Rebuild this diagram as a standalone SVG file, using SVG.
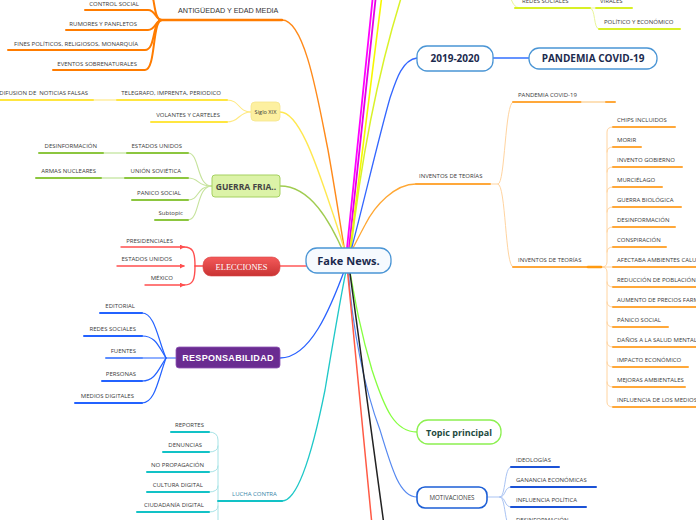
<svg xmlns="http://www.w3.org/2000/svg" width="696" height="520" viewBox="0 0 696 520">
<defs>
<style>
.t{font-family:"Open Sans","Liberation Sans",sans-serif;font-size:6px;fill:#3a3a3a}
.e{text-anchor:end}
.m{text-anchor:middle}
.b{font-weight:bold}
.ln{fill:none;stroke-linecap:round}
.or{stroke:#ff7c00;stroke-width:2}
.io{stroke:#ffa83a;stroke-width:2}
.iol{stroke:#ffd4a0;stroke-width:1}
.ye{stroke:#ffe640;stroke-width:2}
.gr{stroke:#8cc63f;stroke-width:2}
.grl{stroke:#c6e39c;stroke-width:1.1}
.rd{stroke:#ff4f4f;stroke-width:1.4}
.bl{stroke:#2362ff;stroke-width:2}
.te{stroke:#12c2c6;stroke-width:2}
.tel{stroke:#a6e3e6;stroke-width:1}
.mb{stroke:#1b52d6;stroke-width:2}
.mbl{stroke:#a9c3f3;stroke-width:1}
.yg{stroke:#d8f026;stroke-width:2}
.ygl{stroke:#e9f59a;stroke-width:1}
</style>
<linearGradient id="redg" x1="0" y1="0" x2="0" y2="1">
<stop offset="0" stop-color="#f45a5a"/>
<stop offset="1" stop-color="#c93333"/>
</linearGradient>
<marker id="arr" viewBox="0 0 6 6" refX="5" refY="3" markerWidth="5" markerHeight="5" orient="auto" markerUnits="userSpaceOnUse">
<path d="M0,0 L6,3 L0,6 z" fill="#ff4f4f"/>
</marker>
</defs>

<g id="connectors">
<!-- main branches from the central node -->
<path class="ln" d="M282,20 C305,20 318,100 328,150 C336,195 341,230 346,258" stroke="#ff8a1a" stroke-width="1.4"/>
<path class="ln" d="M280,112 C300,112 318,170 330,205 C338,228 343,245 347,258" stroke="#ffe850" stroke-width="1.4"/>
<path class="ln" d="M280,186 C310,186 330,220 346,258" stroke="#a0cc50" stroke-width="1.3"/>
<path class="ln" d="M280,266 H308" stroke="#ff5a5a" stroke-width="1.4"/>
<path class="ln" d="M280,358 C310,358 330,310 346,266" stroke="#2a62ff" stroke-width="1.3"/>
<path class="ln" d="M282,501 C300,501 315,440 325,390 C335,330 342,290 347,266" stroke="#1fc8c8" stroke-width="1.3"/>
<path class="ln" d="M346,258 L373,-5" stroke="#ff00ff" stroke-width="1.8"/>
<path class="ln" d="M348,258 L376,-5" stroke="#e600e6" stroke-width="1.8"/>
<path class="ln" d="M349,258 L382,-5" stroke="#f7f700" stroke-width="1.6"/>
<path class="ln" d="M350,258 Q366,110 402,-5" stroke="#d9f228" stroke-width="1.5"/>
<path class="ln" d="M417,58 C402,60 396,80 390,98 C378,140 362,210 349,258" stroke="#3366ff" stroke-width="1.3"/>
<path class="ln" d="M416,184 C395,184 375,205 365,225 C358,238 352,250 348,258" stroke="#ffa733" stroke-width="1.3"/>
<path class="ln" d="M349,266 C355,300 360,330 372,370 C385,410 395,432 417,432" stroke="#86ff40" stroke-width="1.3"/>
<path class="ln" d="M348,266 C352,330 365,390 380,430 C392,470 400,497 417,497" stroke="#5588f0" stroke-width="1.2"/>
<path class="ln" d="M347,266 L372,525" stroke="#ff5a45" stroke-width="1.5"/>
<path class="ln" d="M349,266 L384,525" stroke="#222222" stroke-width="1.5"/>

<!-- Antigüedad children -->
<path class="ln or" d="M162,20 C152,20 156,-10 148,-10"/>
<path class="ln or" d="M162,20 C155,20 156,10 148,10 H85"/>
<path class="ln or" d="M162,20 C155,20 156,30 148,30 H66"/>
<path class="ln or" d="M162,20 C152,20 156,50 145,50 H8"/>
<path class="ln or" d="M162,20 C152,20 156,70 145,70 H53"/>

<!-- Siglo XIX -->
<path class="ln" d="M251,112 C238,112 240,100 227,100" stroke="#ffe980" stroke-width="1.1"/>
<path class="ln" d="M251,112 C238,112 240,122 227,122" stroke="#ffe980" stroke-width="1.1"/>
<path class="ln" d="M93,100 H117" stroke="#fff2b8" stroke-width="2"/>

<!-- Guerra fria -->
<path class="ln grl" d="M212,186 C196,186 200,153 188,153"/>
<path class="ln grl" d="M212,186 C196,186 200,178 188,178"/>
<path class="ln grl" d="M212,186 C196,186 200,200 188,200"/>
<path class="ln grl" d="M212,186 C196,186 200,220 188,220"/>
<path class="ln" d="M103,153 H127" stroke="#d8eec0" stroke-width="2"/>
<path class="ln" d="M101,178 H125" stroke="#d8eec0" stroke-width="2"/>

<!-- Elecciones -->
<path class="ln rd" d="M203,266 H195"/>
<path class="ln rd" d="M195,266 C195,252 193,247 184,247"/>
<path class="ln rd" d="M195,266 C195,280 193,285 184,285"/>

<!-- Responsabilidad -->
<path class="ln" d="M176,358 H166 C158,340 155,313 142,313" stroke="#2362ff" stroke-width="1.2"/>
<path class="ln" d="M166,358 C158,345 155,336 142,336" stroke="#2362ff" stroke-width="1.2"/>
<path class="ln" d="M166,358 H142" stroke="#2362ff" stroke-width="1.2"/>
<path class="ln" d="M166,358 C158,370 155,381 142,381" stroke="#2362ff" stroke-width="1.2"/>
<path class="ln" d="M166,358 C158,380 155,403 142,403" stroke="#2362ff" stroke-width="1.2"/>

<!-- Lucha contra -->
<path class="ln tel" d="M209,432 Q218,432 218,440 V525"/>
<path class="ln tel" d="M218,446 Q218,452 209,452"/>
<path class="ln tel" d="M218,466 Q218,472 209,472"/>
<path class="ln tel" d="M218,486 Q218,492 209,492"/>
<path class="ln tel" d="M218,506 Q218,512 209,512"/>

<!-- Redes sociales (top right) -->
<path class="ln ygl" d="M510,-6 Q512,8 520,8"/>
<path class="ln ygl" d="M590,8 H595"/>
<path class="ln ygl" d="M590,8 C596,8 593,29 599,29"/>

<!-- 2019-2020 -->
<path class="ln" d="M493,58 H529" stroke="#3370ff" stroke-width="1.4"/>

<!-- Inventos de teorias -->
<path class="ln iol" d="M490,184 H498 C505,184 505,102 513,102"/>
<path class="ln iol" d="M498,184 C506,184 505,267 513,267"/>
<path class="ln iol" d="M602,267 Q607,267 607,262 L607,132 Q607,127 613,127"/>
<path class="ln iol" d="M607,152 Q607,147 613,147"/>
<path class="ln iol" d="M607,172 Q607,167 613,167"/>
<path class="ln iol" d="M607,192 Q607,187 613,187"/>
<path class="ln iol" d="M607,212 Q607,207 613,207"/>
<path class="ln iol" d="M607,232 Q607,227 613,227"/>
<path class="ln iol" d="M607,252 Q607,247 613,247"/>
<path class="ln iol" d="M602,267 H613"/>
<path class="ln iol" d="M602,267 Q607,267 607,272 L607,402 Q607,407 613,407"/>
<path class="ln iol" d="M607,282 Q607,287 613,287"/>
<path class="ln iol" d="M607,302 Q607,307 613,307"/>
<path class="ln iol" d="M607,322 Q607,327 613,327"/>
<path class="ln iol" d="M607,342 Q607,347 613,347"/>
<path class="ln iol" d="M607,362 Q607,367 613,367"/>
<path class="ln iol" d="M607,382 Q607,387 613,387"/>

<!-- Motivaciones -->
<path class="ln mbl" d="M487,497 H500"/>
<path class="ln mbl" d="M500,497 C506,497 504,467 511,467"/>
<path class="ln mbl" d="M500,497 C506,497 504,487 511,487"/>
<path class="ln mbl" d="M500,497 C506,497 504,507 511,507"/>
<path class="ln mbl" d="M500,497 C506,497 504,527 511,527"/>
</g>

<g id="center">
<rect x="306" y="248" width="85" height="25" rx="11" fill="#f6fafe" stroke="#4a95d5" stroke-width="1.3"/>
<text class="t m b" x="348.5" y="265" style="font-size:11px;fill:#1b2a4e">Fake News.</text>
</g>

<g id="antiguedad">
<path class="ln" d="M160,20 H282" stroke="#ff7c00" stroke-width="2.4"/>
<text x="178" y="13" style="font-family:'Liberation Sans',Arial,sans-serif;font-size:7.2px;fill:#333">ANTIGÜEDAD Y EDAD MEDIA</text>
</g>
<g id="control-social"><text class="t e" x="139" y="6">CONTROL SOCIAL</text></g>
<g id="rumores"><text class="t e" x="137" y="26">RUMORES Y PANFLETOS</text></g>
<g id="fines"><text class="t e" x="138" y="46">FINES POLÍTICOS, RELIGIOSOS, MONARQUÍA</text></g>
<g id="eventos"><text class="t e" x="137" y="66">EVENTOS SOBRENATURALES</text></g>

<g id="siglo-xix">
<rect x="251" y="102" width="29" height="19" rx="4" fill="#fdf0a0" stroke="#f5e58a" stroke-width="0.8"/>
<text class="t m" x="265.5" y="114" style="font-size:5.6px">Siglo XIX</text>
</g>
<g id="telegrafo">
<path class="ln ye" d="M117,100 H227"/>
<text class="t e" x="221" y="95">TELEGRAFO, IMPRENTA, PERIODICO</text>
</g>
<g id="volantes">
<path class="ln ye" d="M151,122 H227"/>
<text class="t e" x="220" y="117">VOLANTES Y CARTELES</text>
</g>
<g id="difusion">
<path class="ln ye" d="M-2,100 H93"/>
<text class="t e" x="88" y="95" xml:space="preserve">DIFUSION DE  NOTICIAS FALSAS</text>
</g>

<g id="guerra-fria">
<rect x="212" y="175" width="68" height="22" rx="3" fill="#dcf3a8" stroke="#a5d160" stroke-width="1"/>
<text class="t m b" x="246" y="189.5" style="font-size:8.5px;fill:#454545">GUERRA FRIA..</text>
</g>
<g id="eeuu-gf"><path class="ln gr" d="M127,153 H188"/><text class="t e" x="182" y="148">ESTADOS UNIDOS</text></g>
<g id="urss"><path class="ln gr" d="M125,178 H188"/><text class="t e" x="181" y="173">UNIÓN SOVIÉTICA</text></g>
<g id="panico-gf"><path class="ln gr" d="M132,200 H188"/><text class="t e" x="181" y="195">PANICO SOCIAL</text></g>
<g id="subtopic"><path class="ln gr" d="M155,220 H188"/><text class="t e" x="183" y="215">Subtopic</text></g>
<g id="desinfo-gf"><path class="ln gr" d="M39,153 H103"/><text class="t e" x="97" y="148">DESINFORMACIÓN</text></g>
<g id="armas"><path class="ln gr" d="M36,178 H101"/><text class="t e" x="96" y="173">ARMAS NUCLEARES</text></g>

<g id="elecciones">
<rect x="203" y="257" width="77" height="19" rx="8" fill="url(#redg)" stroke="#d84545" stroke-width="0.6"/>
<text class="m" x="241.5" y="269.5" style="font-family:'Liberation Serif','Times New Roman',serif;font-size:8.5px;fill:#ffffff">ELECCIONES</text>
</g>
<g id="presidenciales"><path class="ln rd" d="M121,247 H184" marker-end="url(#arr)"/><text class="t e" x="173" y="243">PRESIDENCIALES</text></g>
<g id="eeuu-el"><path class="ln rd" d="M117,266 H184" marker-end="url(#arr)"/><text class="t e" x="172" y="261">ESTADOS UNIDOS</text></g>
<g id="mexico"><path class="ln rd" d="M145,285 H184" marker-end="url(#arr)"/><text class="t e" x="173" y="280">MÉXICO</text></g>

<g id="responsabilidad">
<rect x="176" y="347" width="104" height="21" rx="3" fill="#6a2c91" stroke="#8f55b5" stroke-width="0.8"/>
<text class="m" x="228" y="361" style="font-family:'Liberation Sans',Arial,sans-serif;font-weight:bold;font-size:9px;letter-spacing:0.3px;fill:#ffffff">RESPONSABILIDAD</text>
</g>
<g id="editorial"><path class="ln bl" d="M100,313 H142"/><text class="t e" x="135" y="308">EDITORIAL</text></g>
<g id="redes-resp"><path class="ln bl" d="M84,336 H142"/><text class="t e" x="136" y="331">REDES SOCIALES</text></g>
<g id="fuentes"><path class="ln" d="M106,358 H142" stroke="#5b8cff" stroke-width="2"/><text class="t e" x="136" y="353">FUENTES</text></g>
<g id="personas"><path class="ln bl" d="M102,381 H142"/><text class="t e" x="136" y="376">PERSONAS</text></g>
<g id="medios-dig"><path class="ln bl" d="M75,403 H142"/><text class="t e" x="134" y="398">MEDIOS DIGITALES</text></g>

<g id="lucha-contra">
<path class="ln te" d="M218,501 H282"/>
<text class="t" x="232" y="496" style="fill:#3a86a8">LUCHA CONTRA</text>
</g>
<g id="reportes"><path class="ln te" d="M171,432 H209"/><text class="t e" x="204" y="427">REPORTES</text></g>
<g id="denuncias"><path class="ln te" d="M163,452 H209"/><text class="t e" x="202" y="447">DENUNCIAS</text></g>
<g id="no-propagacion"><path class="ln te" d="M147,472 H209"/><text class="t e" x="204" y="467">NO PROPAGACIÓN</text></g>
<g id="cultura-digital"><path class="ln te" d="M147,492 H209"/><text class="t e" x="203" y="487">CULTURA DIGITAL</text></g>
<g id="ciudadania"><path class="ln te" d="M137,512 H209"/><text class="t e" x="204" y="507">CIUDADANÍA DIGITAL</text></g>

<g id="redes-top"><path class="ln yg" d="M515,8 H590"/><text class="t" x="522" y="3">REDES SOCIALES</text></g>
<g id="virales"><path class="ln yg" d="M596,8 H632"/><text class="t" x="600" y="3">VIRALES</text></g>
<g id="politico"><path class="ln yg" d="M599,29 H680"/><text class="t" x="604" y="24">POLÍTICO Y ECONÓMICO</text></g>

<g id="y2019">
<rect x="417" y="46" width="76" height="25" rx="10" fill="#ffffff" stroke="#4a95d5" stroke-width="1.3"/>
<text class="t m b" x="455" y="62" style="font-size:10px;fill:#1b2a4e">2019-2020</text>
</g>
<g id="pandemia-box">
<rect x="529" y="48" width="128" height="21" rx="10" fill="#ffffff" stroke="#4a95d5" stroke-width="1.3"/>
<text class="t m b" x="593" y="62" style="font-size:10px;fill:#1b2a4e">PANDEMIA COVID-19</text>
</g>

<g id="inventos-1"><path class="ln io" d="M416,184 H490"/><text class="t" x="419" y="178">INVENTOS DE TEORÍAS</text></g>
<g id="pandemia-sub">
<path class="ln io" d="M513,102 H582"/>
<path class="ln" d="M582,102 H606" stroke="#fde0b8" stroke-width="2"/>
<path class="ln io" d="M606,102 H615"/>
<text class="t" x="518" y="97">PANDEMIA COVID-19</text>
</g>
<g id="inventos-2">
<path class="ln io" d="M513,267 H590"/>
<path class="ln" d="M588,267 H601" stroke="#ff9a10" stroke-width="2.6"/>
<text class="t" x="518" y="262">INVENTOS DE TEORÍAS</text>
</g>
<g id="chips"><path class="ln io" d="M613,127 H675"/><text class="t" x="617" y="122">CHIPS INCLUIDOS</text></g>
<g id="morir"><path class="ln io" d="M613,147 H641"/><text class="t" x="617" y="142">MORIR</text></g>
<g id="invento-gob"><path class="ln io" d="M613,167 H682"/><text class="t" x="617" y="162">INVENTO GOBIERNO</text></g>
<g id="murcielago"><path class="ln io" d="M613,187 H662"/><text class="t" x="617" y="182">MURCIÉLAGO</text></g>
<g id="guerra-bio"><path class="ln io" d="M613,207 H681"/><text class="t" x="617" y="202">GUERRA BIOLÓGICA</text></g>
<g id="desinfo-inv"><path class="ln io" d="M613,227 H675"/><text class="t" x="617" y="222">DESINFORMACIÓN</text></g>
<g id="conspiracion"><path class="ln io" d="M613,247 H666"/><text class="t" x="617" y="242">CONSPIRACIÓN</text></g>
<g id="afectaba"><path class="ln io" d="M613,267 H700"/><text class="t" x="617" y="262">AFECTABA AMBIENTES CALUROSOS</text></g>
<g id="reduccion"><path class="ln io" d="M613,287 H700"/><text class="t" x="617" y="282">REDUCCIÓN DE POBLACIÓN</text></g>
<g id="aumento"><path class="ln io" d="M613,307 H700"/><text class="t" x="617" y="302">AUMENTO DE PRECIOS FARMACÉUTICOS</text></g>
<g id="panico-inv"><path class="ln io" d="M613,327 H668"/><text class="t" x="617" y="322">PÁNICO SOCIAL</text></g>
<g id="danos"><path class="ln io" d="M613,347 H700"/><text class="t" x="617" y="342">DAÑOS A LA SALUD MENTAL</text></g>
<g id="impacto"><path class="ln io" d="M613,367 H688"/><text class="t" x="617" y="362">IMPACTO ECONÓMICO</text></g>
<g id="mejoras"><path class="ln io" d="M613,387 H685"/><text class="t" x="617" y="382">MEJORAS AMBIENTALES</text></g>
<g id="influencia-medios"><path class="ln io" d="M613,407 H700"/><text class="t" x="617" y="402">INFLUENCIA DE LOS MEDIOS</text></g>

<g id="topic-principal">
<rect x="417" y="420" width="84" height="24" rx="11" fill="#ffffff" stroke="#8cf050" stroke-width="1.3"/>
<text class="t m b" x="459" y="435.5" style="font-size:9px;fill:#1e4a40">Topic principal</text>
</g>

<g id="motivaciones">
<rect x="417" y="487" width="70" height="21" rx="8" fill="#ffffff" stroke="#1d5fd6" stroke-width="1.6"/>
<text class="t m" x="452" y="500" style="font-size:6.2px">MOTIVACIONES</text>
</g>
<g id="ideologias"><path class="ln mb" d="M511,467 H559"/><text class="t" x="516" y="462">IDEOLOGÍAS</text></g>
<g id="ganancia"><path class="ln mb" d="M511,487 H596"/><text class="t" x="516" y="482">GANANCIA ECONÓMICAS</text></g>
<g id="influencia-pol"><path class="ln mb" d="M511,507 H586"/><text class="t" x="516" y="502">INFLUENCIA POLÍTICA</text></g>
<g id="desinfo-mot"><path class="ln mb" d="M511,527 H572"/><text class="t" x="516" y="522">DESINFORMACIÓN</text></g>
</svg>
